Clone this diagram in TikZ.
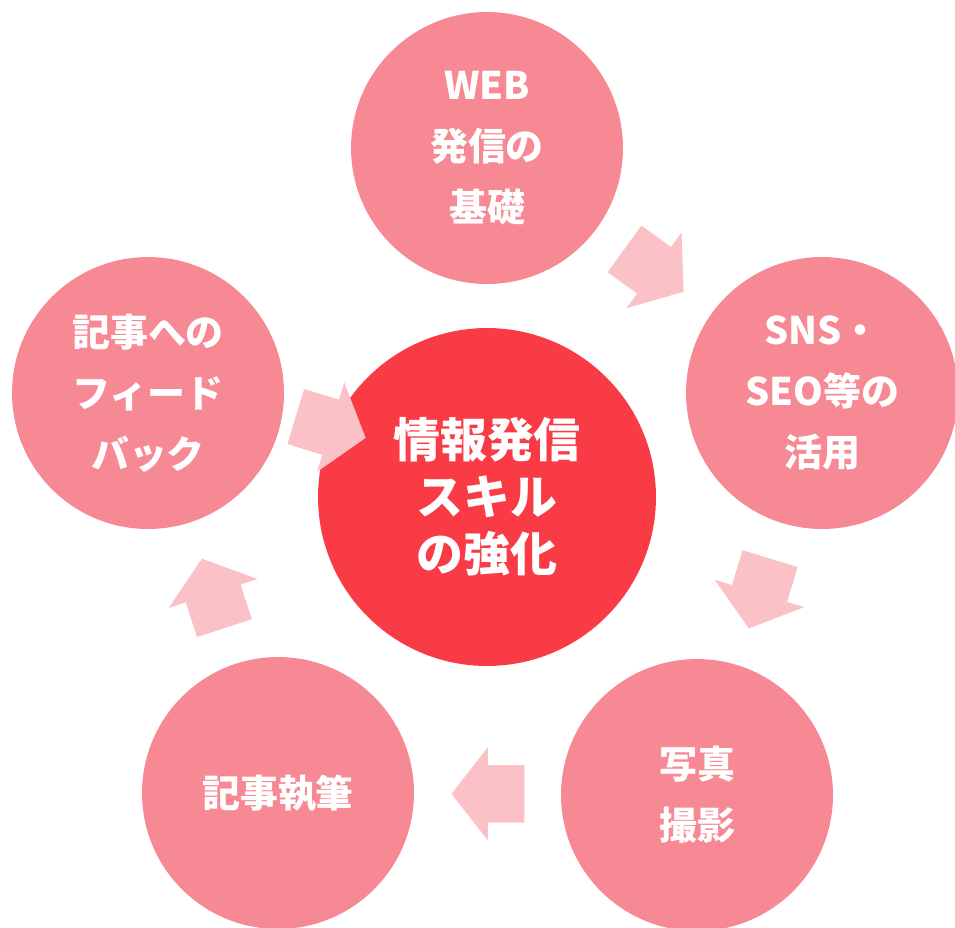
\documentclass[tikz,border=0pt]{standalone}
\usepackage{fontspec}
\newfontfamily\jpfont{Noto Sans CJK JP}
\usetikzlibrary{shapes.arrows,calc}

\definecolor{pinkc}{RGB}{247,137,148}
\definecolor{redc}{RGB}{249,59,70}
\definecolor{arrowc}{RGB}{250,194,199}

\tikzstyle{ring} = [circle, fill=pinkc, minimum size=5.44cm, inner sep=0pt, text=white, align=center, font=\jpfont\bfseries\fontsize{21.6}{34.7}\selectfont]
\tikzstyle{core} = [circle, fill=redc, minimum size=6.76cm, inner sep=0pt, text=white, align=center, font=\jpfont\bfseries\fontsize{26.7}{32.4}\selectfont]
\tikzstyle{flow} = [single arrow, fill=arrowc, anchor=tip, inner xsep=0pt, inner ysep=16.2pt, minimum width=0pt, minimum height=1.46cm, single arrow head extend=10.2pt, single arrow tip angle=104, single arrow head indent=0pt]

\begin{document}
\begin{tikzpicture}[x=0.02cm, y=-0.02cm]

\useasboundingbox (0,0) rectangle (955,927);
\clip (0,0) rectangle (955,927);

% steps
\node[ring] (web) at (487,148) {WEB\\発信の\\基礎};
\node[ring] (sns) at (822,393) {SNS・\\SEO等の\\活用};
\node[ring] (foto) at (697,795) {写真\\撮影};
\node[ring] (write) at (278,793) {記事執筆};
\node[ring] (feed) at (148,393) {記事への\\フィード\\バック};

\node[core] (skill) at (487,497) {情報発信\\スキル\\の強化};

% arrows between the steps (placed by their tips)
\node[flow, rotate=-36] (a1) at ($(web)!0.5!(sns)!0.73cm!(sns)$) {};
\node[flow, rotate=-107] (a2) at ($(sns)!0.5!(foto)!0.73cm!(foto)$) {};
\node[flow, rotate=180] (a3) at ($(foto)!0.5!(write)!0.73cm!(write)$) {};
\node[flow, rotate=108] (a4) at ($(write)!0.5!(feed)!0.73cm!(feed)$) {};
\node[flow, rotate=-17] (a5) at (366,438) {};

\end{tikzpicture}
\end{document}
